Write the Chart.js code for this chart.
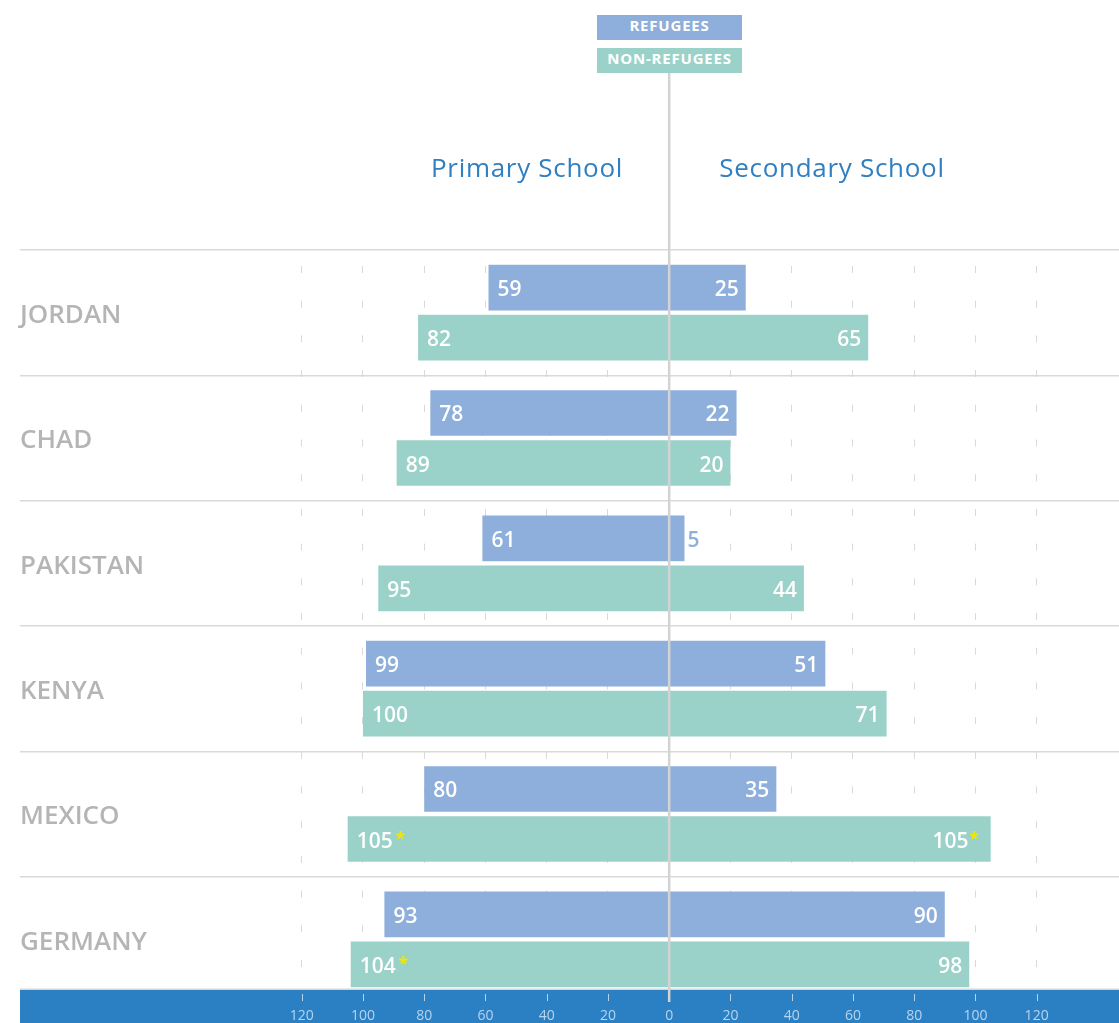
<!DOCTYPE html>
<html>
<head>
<meta charset="utf-8">
<script src="https://cdn.jsdelivr.net/npm/chart.js@4.4.1/dist/chart.umd.min.js"></script>
<style>
  html, body { margin: 0; padding: 0; background: #ffffff; }
  #wrap { position: relative; width: 1119px; height: 1023px; overflow: hidden; }
  #wrap canvas { position: absolute; left: 0; top: 0; }
  .lg { position: absolute; left: 597px; width: 145px; height: 25px; line-height: 25px;
        text-align: center; color: #ffffff; font: 700 15px 'Open Sans', sans-serif; letter-spacing: 0.8px; }
  .ttl { position: absolute; top: 149px; width: 400px; height: 36px; line-height: 36px; text-align: center;
         font: 400 26px 'Open Sans', sans-serif; color: #2f7fc1; letter-spacing: 0.7px; }
</style>
</head>
<body>
<div id="wrap">
  <canvas id="c" width="1119" height="1023"></canvas>
</div>
<script>
// ---- data ----
const categories = ['JORDAN', 'CHAD', 'PAKISTAN', 'KENYA', 'MEXICO', 'GERMANY'];
const refugeesPrimary = [59, 78, 61, 99, 80, 93];
const refugeesSecondary = [25, 22, 5, 51, 35, 90];
const nonRefugeesPrimary = [82, 89, 95, 100, 105, 104];
const nonRefugeesSecondary = [65, 20, 44, 71, 105, 98];
const nonRefugeesPrimaryNote = [false, false, false, false, true, true];
const nonRefugeesSecondaryNote = [false, false, false, false, true, false];
const axisTicks = [-120, -100, -80, -60, -40, -20, 0, 20, 40, 60, 80, 100, 120];
const legendLabels = ['REFUGEES', 'NON-REFUGEES'];
const panelTitles = ['Primary School', 'Secondary School'];

// ---- styles ----
const COLOR_REF = '#8eaedb';
const COLOR_NON = '#9ad2c9';
const BAND = '#2b80c4';

// header (legend + panel titles) as real text
const wrap = document.getElementById('wrap');
[[legendLabels[0], 15, COLOR_REF], [legendLabels[1], 48, COLOR_NON]].forEach(([t, top, col]) => {
  const d = document.createElement('div');
  d.className = 'lg'; d.style.top = top + 'px'; d.style.background = col; d.textContent = t;
  wrap.appendChild(d);
});
[[panelTitles[0], 527], [panelTitles[1], 832]].forEach(([t, cx]) => {
  const d = document.createElement('div');
  d.className = 'ttl'; d.style.left = (cx - 200) + 'px'; d.textContent = t;
  wrap.appendChild(d);
});

const neg = a => a.map(v => -v);

const decorPlugin = {
  id: 'decor',
  afterDatasetsDraw(chart) {
    const ctx = chart.ctx;
    const xs = chart.scales.x;
    const area = chart.chartArea;
    ctx.save();
    // value labels
    chart.data.datasets.forEach((ds, di) => {
      const meta = chart.getDatasetMeta(di);
      meta.data.forEach((bar, i) => {
        const raw = ds.data[i];
        const txt = String(Math.abs(raw));
        const note = ds.notes ? ds.notes[i] : false;
        const numFont = "600 21px 'Open Sans', sans-serif";
        const starFont = "700 17px 'Open Sans', sans-serif";
        ctx.font = numFont;
        const w = ctx.measureText(txt).width;
        const base = bar.y + 8.5;
        const barLen = Math.abs(bar.x - bar.base);
        ctx.textBaseline = 'alphabetic';
        if (raw < 0) {
          const x0 = bar.x + 9;
          ctx.fillStyle = '#ffffff';
          ctx.textAlign = 'left';
          ctx.fillText(txt, x0, base);
          if (note) {
            ctx.font = starFont;
            ctx.fillStyle = '#f3e600';
            ctx.fillText('*', x0 + w + 3, base - 3);
          }
        } else {
          if (barLen < w + 14) {
            ctx.fillStyle = ds.backgroundColor;
            ctx.textAlign = 'left';
            ctx.fillText(txt, bar.x + 3, base);
          } else if (note) {
            ctx.font = starFont;
            const sw = ctx.measureText('*').width;
            const sx = bar.x - 12 - sw;
            ctx.fillStyle = '#f3e600';
            ctx.textAlign = 'left';
            ctx.fillText('*', sx, base - 3);
            ctx.font = numFont;
            ctx.fillStyle = '#ffffff';
            ctx.textAlign = 'right';
            ctx.fillText(txt, sx - 1, base);
          } else {
            ctx.fillStyle = '#ffffff';
            ctx.textAlign = 'right';
            ctx.fillText(txt, bar.x - 7, base);
          }
        }
      });
    });
    // bottom band
    const bandTop = area.bottom - 12;
    ctx.fillStyle = BAND;
    ctx.fillRect(area.left, bandTop, area.right - area.left, chart.height - bandTop);
    ctx.strokeStyle = '#d6d6d6';
    ctx.lineWidth = 1.5;
    ctx.beginPath();
    ctx.moveTo(area.left, bandTop - 0.75);
    ctx.lineTo(area.right, bandTop - 0.75);
    ctx.stroke();
    // small tick marks in band
    ctx.strokeStyle = 'rgba(255,255,255,0.65)';
    ctx.lineWidth = 1;
    xs.ticks.forEach(t => {
      if (t.value === 0) return;
      const px = Math.round(xs.getPixelForValue(t.value)) + 0.5;
      ctx.beginPath();
      ctx.moveTo(px, bandTop + 4);
      ctx.lineTo(px, bandTop + 11);
      ctx.stroke();
    });
    // zero line
    const zx = xs.getPixelForValue(0);
    ctx.strokeStyle = '#d3d3d3';
    ctx.lineWidth = 2.5;
    ctx.beginPath();
    ctx.moveTo(zx, 73);
    ctx.lineTo(zx, area.bottom);
    ctx.stroke();
    ctx.restore();
  }
};

new Chart(document.getElementById('c'), {
  type: 'bar',
  data: {
    labels: categories,
    datasets: [
      { label: 'Refugees primary', data: neg(refugeesPrimary), stack: 'ref', backgroundColor: COLOR_REF },
      { label: 'Refugees secondary', data: refugeesSecondary, stack: 'ref', backgroundColor: COLOR_REF },
      { label: 'Non-refugees primary', data: neg(nonRefugeesPrimary), stack: 'non', backgroundColor: COLOR_NON, notes: nonRefugeesPrimaryNote },
      { label: 'Non-refugees secondary', data: nonRefugeesSecondary, stack: 'non', backgroundColor: COLOR_NON, notes: nonRefugeesSecondaryNote }
    ]
  },
  options: {
    indexAxis: 'y',
    responsive: false,
    animation: false,
    devicePixelRatio: 1,
    layout: { padding: { top: 250, left: 20, right: 0, bottom: 0 } },
    datasets: { bar: { categoryPercentage: 0.798, barPercentage: 0.914, borderWidth: 0 } },
    plugins: { legend: { display: false }, tooltip: { enabled: false }, title: { display: false } },
    scales: {
      x: {
        stacked: true,
        min: -212,
        max: 146.9,
        afterBuildTicks: (scale) => { scale.ticks = axisTicks.map(v => ({ value: v })); },
        afterFit: (scale) => { scale.height = 21; },
        grid: {
          color: (c) => (c.tick && c.tick.value === 0) ? 'rgba(0,0,0,0)' : '#d9d9d9',
          lineWidth: 1,
          drawTicks: false,
          borderDash: [7, 27.7],
          borderDashOffset: 18.7
        },
        border: { display: false, dash: [7, 27.7], dashOffset: 18.7 },
        ticks: {
          z: 1,
          autoSkip: false,
          maxRotation: 0,
          padding: 7,
          color: '#b7d3ee',
          font: { family: "'Open Sans', sans-serif", size: 14, lineHeight: 1 },
          callback: (v) => String(Math.abs(v))
        }
      },
      y: {
        stacked: true,
        afterFit: (scale) => { scale.width = 0; },
        grid: { color: '#d9d9d9', lineWidth: 1.5, drawTicks: false, offset: true },
        border: { display: false },
        ticks: {
          mirror: true,
          padding: 0,
          labelOffset: 3,
          color: '#b5b5b5',
          font: { family: "'Open Sans', sans-serif", size: 26, weight: '600' }
        }
      }
    }
  },
  plugins: [decorPlugin]
});
</script>
</body>
</html>
